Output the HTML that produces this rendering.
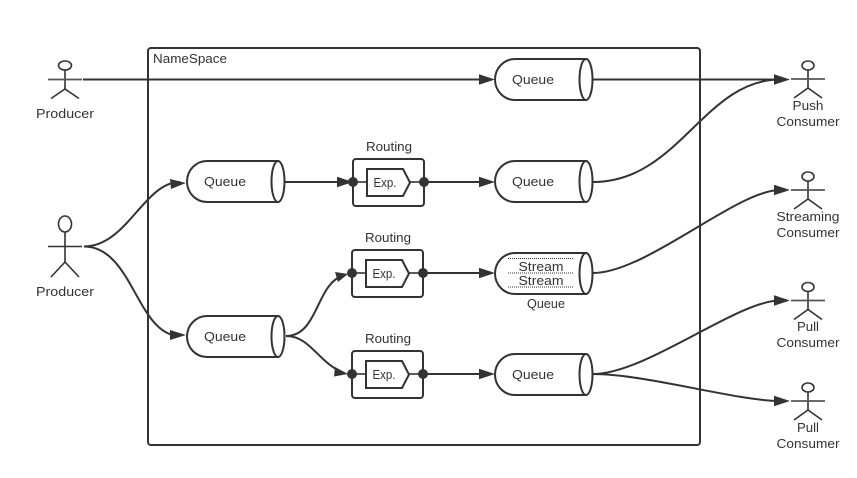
<!DOCTYPE html>
<html><head><meta charset="utf-8"><style>
html,body{margin:0;padding:0;background:#fff;width:857px;height:478px;overflow:hidden}
svg{display:block}
text{font-family:"Liberation Sans","DejaVu Sans",sans-serif;font-size:13px;fill:#333;text-anchor:middle}
.s{fill:none;stroke:#333;stroke-width:2}
.t{fill:none;stroke:#333;stroke-width:1.6}
.w{fill:#fff;stroke:#333;stroke-width:2}
.a{fill:#333;stroke:none}
.d{stroke:#333;stroke-width:1;stroke-dasharray:1 1;fill:none}
</style></head><body>
<svg width="857" height="478" viewBox="0 0 857 478" xmlns="http://www.w3.org/2000/svg">
<defs>
<g id="q">
<path class="w" d="M20 0H91V41H20A20 20.500 0 0 1 20 0Z"/>
<ellipse class="w" cx="91" cy="20.500" rx="6.500" ry="20.500"/>
</g>
<g id="r">
<rect class="s" x="0" y="0" width="71" height="47" rx="3"/>
<path class="w" d="M14 10H50L57 23.500L50 37H14Z"/>
<line class="t" x1="0" y1="23" x2="14" y2="23"/>
<line class="t" x1="57" y1="23" x2="71" y2="23"/>
<circle class="a" cx="0" cy="23" r="5"/>
<circle class="a" cx="71" cy="23" r="5"/>
</g>
<g id="c">
<ellipse class="t" cx="0" cy="-13.500" rx="6" ry="4.500"/>
<line class="t" x1="0" y1="-9" x2="0" y2="9"/>
<line x1="-17" y1="0" x2="17" y2="0" stroke="#555" stroke-width="1.800"/>
<path class="t" d="M-14 19L0 9L14 19"/>
</g>
</defs>

<rect class="s" x="148" y="48" width="552" height="397" rx="3"/>
<text x="190" y="63" textLength="74" lengthAdjust="spacingAndGlyphs">NameSpace</text>

<!-- connectors -->
<path class="s" d="M83 79.500H482"/>
<path class="s" d="M593 79.500H778"/>
<path class="s" d="M84 246.500C127 246.500 144 182 180 182"/>
<path class="s" d="M84 246.500C133 246.500 137 336 180 336"/>
<path class="s" d="M285 182H340"/>
<path class="s" d="M424 182H482"/>
<path class="s" d="M423 273H482"/>
<path class="s" d="M423 374H482"/>
<path class="s" d="M286 336C318 336 316 285 342 276"/>
<path class="s" d="M286 336C310 336 318 362 342 372"/>
<path class="s" d="M593 182C679 182 704 79.500 780 79.500"/>
<path class="s" d="M593 273C646 273 737 190 780 190"/>
<path class="s" d="M593 374C646 374 737 300.500 780 300.500"/>
<path class="s" d="M593 374C646 374 737 401 780 401"/>

<!-- queues -->
<use href="#q" x="495" y="59"/>
<use href="#q" x="187" y="161"/>
<use href="#q" x="495" y="161"/>
<use href="#q" x="495" y="253"/>
<use href="#q" x="187" y="316"/>
<use href="#q" x="495" y="354"/>
<text x="533" y="84" textLength="42" lengthAdjust="spacingAndGlyphs">Queue</text>
<text x="225" y="186" textLength="42" lengthAdjust="spacingAndGlyphs">Queue</text>
<text x="533" y="186" textLength="42" lengthAdjust="spacingAndGlyphs">Queue</text>
<text x="225" y="341" textLength="42" lengthAdjust="spacingAndGlyphs">Queue</text>
<text x="533" y="379" textLength="42" lengthAdjust="spacingAndGlyphs">Queue</text>
<text x="546" y="308" textLength="38" lengthAdjust="spacingAndGlyphs">Queue</text>
<line class="d" x1="508" y1="258.500" x2="574" y2="258.500"/>
<line class="d" x1="508" y1="273" x2="574" y2="273"/>
<line class="d" x1="508" y1="287" x2="574" y2="287"/>
<text x="541" y="271" textLength="45" lengthAdjust="spacingAndGlyphs">Stream</text>
<text x="541" y="285" textLength="45" lengthAdjust="spacingAndGlyphs">Stream</text>

<!-- routing -->
<use href="#r" x="353" y="159"/>
<use href="#r" x="352" y="250"/>
<use href="#r" x="352" y="351"/>
<text x="389" y="151" textLength="46" lengthAdjust="spacingAndGlyphs">Routing</text>
<text x="388" y="242" textLength="46" lengthAdjust="spacingAndGlyphs">Routing</text>
<text x="388" y="343" textLength="46" lengthAdjust="spacingAndGlyphs">Routing</text>
<text x="385" y="187" textLength="23" lengthAdjust="spacingAndGlyphs">Exp.</text>
<text x="384" y="278" textLength="23" lengthAdjust="spacingAndGlyphs">Exp.</text>
<text x="384" y="379" textLength="23" lengthAdjust="spacingAndGlyphs">Exp.</text>

<!-- arrowheads -->
<path class="a" d="M495 79.500L479 74.200V84.800Z"/>
<path class="a" d="M186 183L170 179L171 189Z"/>
<path class="a" d="M186 335L170 330L170 340Z"/>
<path class="a" d="M353 182L337 176.700V187.300Z"/>
<path class="a" d="M495 182L479 176.700V187.300Z"/>
<path class="a" d="M495 273L479 267.700V278.300Z"/>
<path class="a" d="M495 374L479 368.700V379.300Z"/>
<path class="a" d="M348 274L335 272L338 282Z"/>
<path class="a" d="M348 374L335 367L334 376.500Z"/>
<path class="a" d="M790 79.500L774 74.200V84.800Z"/>
<path class="a" d="M790 190L774 184.700V195.300Z"/>
<path class="a" d="M790 300.500L774 295.200V305.800Z"/>
<path class="a" d="M790 401L774 395.700V406.300Z"/>

<!-- producers -->
<ellipse class="t" cx="65" cy="65.500" rx="6.500" ry="4.500"/>
<line class="t" x1="65" y1="70" x2="65" y2="89"/>
<line x1="48" y1="79.500" x2="82" y2="79.500" stroke="#555" stroke-width="1.800"/>
<path class="t" d="M51 98.500L65 89L79 98.500"/>
<text x="65" y="118" textLength="58" lengthAdjust="spacingAndGlyphs">Producer</text>

<ellipse class="t" cx="65" cy="224" rx="6.500" ry="8"/>
<line class="t" x1="65" y1="232" x2="65" y2="262"/>
<line class="t" x1="48" y1="246.500" x2="82" y2="246.500"/>
<path class="t" d="M51 277L65 262L79 277"/>
<text x="65" y="296" textLength="58" lengthAdjust="spacingAndGlyphs">Producer</text>

<!-- consumers -->
<use href="#c" x="808" y="79"/>
<use href="#c" x="808" y="190"/>
<use href="#c" x="808" y="300.500"/>
<use href="#c" x="808" y="401"/>
<text x="808" y="110" textLength="31" lengthAdjust="spacingAndGlyphs">Push</text>
<text x="808" y="126" textLength="63" lengthAdjust="spacingAndGlyphs">Consumer</text>
<text x="808" y="221" textLength="63" lengthAdjust="spacingAndGlyphs">Streaming</text>
<text x="808" y="237" textLength="63" lengthAdjust="spacingAndGlyphs">Consumer</text>
<text x="808" y="331" textLength="22" lengthAdjust="spacingAndGlyphs">Pull</text>
<text x="808" y="347" textLength="63" lengthAdjust="spacingAndGlyphs">Consumer</text>
<text x="808" y="432" textLength="22" lengthAdjust="spacingAndGlyphs">Pull</text>
<text x="808" y="448" textLength="63" lengthAdjust="spacingAndGlyphs">Consumer</text>
</svg>
</body></html>
